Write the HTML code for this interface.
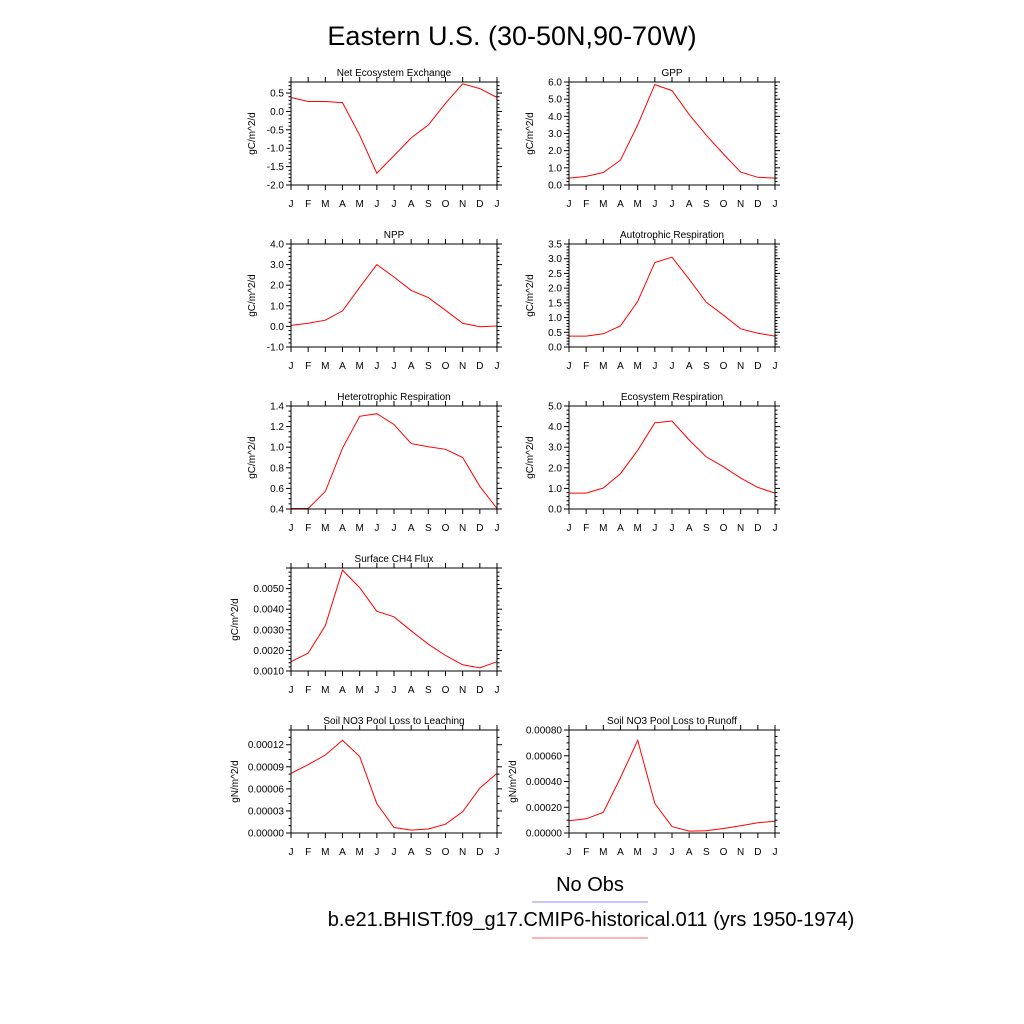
<!DOCTYPE html>
<html><head><meta charset="utf-8"><style>
body{margin:0;background:#fff}
svg{display:block;font-family:"Liberation Sans",sans-serif}
</style></head><body>
<svg id="c" width="1024" height="1024" viewBox="0 0 1024 1024">
<text x="512" y="45" font-size="27" text-anchor="middle">Eastern U.S. (30-50N,90-70W)</text>
<text x="590" y="891" font-size="20" text-anchor="middle">No Obs</text>
<line x1="532" y1="902" x2="648" y2="902" stroke="#8888ff" stroke-width="1"/>
<text x="591" y="926" font-size="20" text-anchor="middle">b.e21.BHIST.f09_g17.CMIP6-historical.011 (yrs 1950-1974)</text>
<line x1="532" y1="938" x2="648" y2="938" stroke="#ff6666" stroke-width="1"/>
</svg>
<script>
const months = ["J","F","M","A","M","J","J","A","S","O","N","D","J"];
const neeValues = [0.38,0.27,0.27,0.24,-0.65,-1.68,-1.2,-0.72,-0.37,0.22,0.75,0.62,0.38];
const gppValues = [0.4,0.5,0.73,1.45,3.5,5.85,5.5,4.1,2.9,1.8,0.75,0.45,0.4];
const nppValues = [0.05,0.15,0.3,0.75,1.9,3.0,2.4,1.75,1.4,0.78,0.15,-0.02,0.02];
const arValues = [0.37,0.37,0.45,0.72,1.55,2.87,3.05,2.3,1.52,1.08,0.62,0.47,0.37];
const hrValues = [0.405,0.405,0.57,0.99,1.30,1.325,1.22,1.035,1.005,0.98,0.90,0.62,0.405];
const erValues = [0.77,0.77,1.02,1.72,2.85,4.18,4.27,3.35,2.53,2.05,1.5,1.05,0.77];
const ch4Values = [0.00145,0.00187,0.0032,0.0059,0.00505,0.0039,0.00363,0.00295,0.0023,0.00175,0.0013,0.00115,0.00145];
const leachValues = [0.000081,0.000093,0.000106,0.000126,0.000104,0.000040,0.0000075,0.000004,0.0000055,0.000012,0.000029,0.000061,0.000081];
const runoffValues = [0.000095,0.00011,0.00016,0.00043,0.00072,0.00023,0.00005,0.000015,0.000017,0.000035,0.000057,0.00008,0.000092];
const neeTicks = ["0.5","0.0","-0.5","-1.0","-1.5","-2.0"];
const gppTicks = ["0.0","1.0","2.0","3.0","4.0","5.0","6.0"];
const nppTicks = ["-1.0","0.0","1.0","2.0","3.0","4.0"];
const arTicks = ["0.0","0.5","1.0","1.5","2.0","2.5","3.0","3.5"];
const hrTicks = ["0.4","0.6","0.8","1.0","1.2","1.4"];
const erTicks = ["0.0","1.0","2.0","3.0","4.0","5.0"];
const ch4Ticks = ["0.0010","0.0020","0.0030","0.0040","0.0050"];
const leachTicks = ["0.00000","0.00003","0.00006","0.00009","0.00012"];
const runoffTicks = ["0.00000","0.00020","0.00040","0.00060","0.00080"];

const NS="http://www.w3.org/2000/svg";
const svg=document.getElementById('c');
function mk(tag,attrs,parent){const e=document.createElementNS(NS,tag);for(const k in attrs)e.setAttribute(k,attrs[k]);(parent||svg).appendChild(e);return e;}

const panels=[
 {name:"nee",title:"Net Ecosystem Exchange",x:291,y:82,ymin:-2.0,ymax:0.8,vals:neeValues,ticks:neeTicks,unit:"gC/m^2/d",minor:5},
 {name:"gpp",title:"GPP",x:569,y:82,ymin:0,ymax:6,vals:gppValues,ticks:gppTicks,unit:"gC/m^2/d",minor:5},
 {name:"npp",title:"NPP",x:291,y:244,ymin:-1,ymax:4,vals:nppValues,ticks:nppTicks,unit:"gC/m^2/d",minor:5},
 {name:"autotrophic-respiration",title:"Autotrophic Respiration",x:569,y:244,ymin:0,ymax:3.5,vals:arValues,ticks:arTicks,unit:"gC/m^2/d",minor:5},
 {name:"heterotrophic-respiration",title:"Heterotrophic Respiration",x:291,y:406,ymin:0.4,ymax:1.4,vals:hrValues,ticks:hrTicks,unit:"gC/m^2/d",minor:4},
 {name:"ecosystem-respiration",title:"Ecosystem Respiration",x:569,y:406,ymin:0,ymax:5,vals:erValues,ticks:erTicks,unit:"gC/m^2/d",minor:5},
 {name:"surface-ch4-flux",title:"Surface CH4 Flux",x:291,y:568,ymin:0.001,ymax:0.006,vals:ch4Values,ticks:ch4Ticks,unit:"gC/m^2/d",minor:5},
 {name:"no3-leaching",title:"Soil NO3 Pool Loss to Leaching",x:291,y:730,ymin:0,ymax:0.00014,vals:leachValues,ticks:leachTicks,unit:"gN/m^2/d",minor:3},
 {name:"no3-runoff",title:"Soil NO3 Pool Loss to Runoff",x:569,y:730,ymin:0,ymax:0.0008,vals:runoffValues,ticks:runoffTicks,unit:"gN/m^2/d",minor:4}
];
const W=206,H=103;
panels.forEach(p=>{
 const g=mk('g',{});
 
 
 const xs=i=>p.x+i*W/12;
 const ys=v=>p.y+H-(v-p.ymin)/(p.ymax-p.ymin)*H;
 const t=mk('text',{x:p.x+W/2,y:p.y-6,'font-size':10,'text-anchor':'middle'},g);
 t.textContent=p.title;
 
 
 // x ticks
 months.forEach((m,i)=>{
  const x=xs(i);
  mk('line',{x1:x,y1:p.y+H,x2:x,y2:p.y+H+5,stroke:'#000','stroke-width':1},g);
  mk('line',{x1:x,y1:p.y,x2:x,y2:p.y-5,stroke:'#000','stroke-width':1},g);
  const l=mk('text',{x:x,y:p.y+H+22,'font-size':10,'text-anchor':'middle'},g);
  l.textContent=m;
  
  
 });
 // y ticks
 const vals=p.ticks.map(Number);
 const step=Math.abs(vals[1]-vals[0]);
 const sorted=vals.slice().sort((a,b)=>a-b);
 let start=sorted[0]-step;
 for(let v=start; v<=p.ymax+1e-12; v+=step){
  for(let k=0;k<p.minor;k++){
   const mv=v+k*step/p.minor;
   if(mv<p.ymin-1e-12||mv>p.ymax+1e-12) continue;
   const y=ys(mv); const len=k===0?5:2.5;
   mk('line',{x1:p.x,y1:y,x2:p.x-len,y2:y,stroke:'#000','stroke-width':1},g);
   mk('line',{x1:p.x+W,y1:y,x2:p.x+W+len,y2:y,stroke:'#000','stroke-width':1},g);
  }
 }
 p.ticks.forEach(s=>{
  const l=mk('text',{x:p.x-7,y:ys(Number(s))+3.5,'font-size':10,'text-anchor':'end'},g);
  l.textContent=s;
  
  
 });
 const ut=p.x-(p.ticks[0].length>5?53:36);
 const u=mk('text',{x:0,y:0,'font-size':10,'text-anchor':'middle',transform:`translate(${ut},${p.y+H/2}) rotate(-90)`},g);
 u.textContent=p.unit;
 
 
 const pts=p.vals.map((v,i)=>xs(i).toFixed(1)+','+ys(v).toFixed(1)).join(' ');
 const pl=mk('polyline',{points:pts,fill:'none',stroke:'#ff0000','stroke-width':1},g);
 
 
 const r=mk('rect',{x:p.x,y:p.y,width:W,height:H,fill:'none',stroke:'#000','stroke-width':1},g);
 
 
});
</script>
</body></html>
